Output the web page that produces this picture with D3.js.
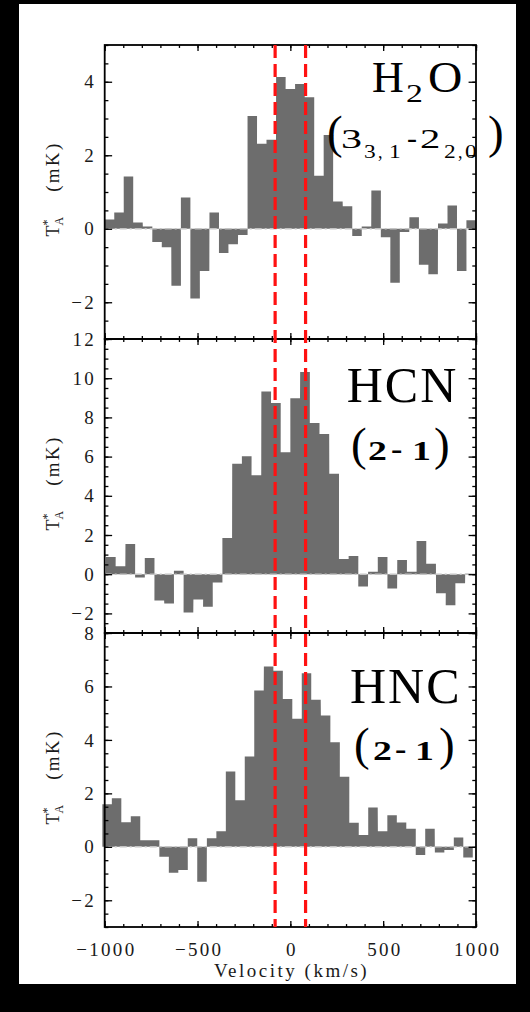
<!DOCTYPE html>
<html>
<head>
<meta charset="utf-8">
<script src="https://cdn.jsdelivr.net/npm/d3@7"></script>
<style>
  html, body { margin: 0; padding: 0; background: #000; }
  svg { display: block; }
</style>
</head>
<body>
<svg id="chart" width="530" height="1012"></svg>
<script>
// Channel centre velocities (km/s) and antenna temperatures T*A (mK)
const velH2O = [-974, -923, -872, -821, -769, -718, -667, -615, -564, -513, -462, -410, -359, -308, -256, -205, -154, -103, -51, 0,
                51, 103, 154, 205, 256, 308, 359, 410, 462, 513, 564, 615, 667, 718, 769, 821, 872, 923, 974];
const tH2O = [0.25, 0.44, 1.42, 0.17, 0.06, -0.36, -0.50, -1.55, 0.85, -1.90, -1.15, 0.44, -0.66, -0.42, -0.17, 3.07, 2.31, 2.42, 4.13, 3.80,
              3.94, 3.58, 1.44, 2.55, 0.74, 0.61, -0.20, 0.06, 1.04, -0.23, -1.47, -0.09, 0.31, -0.98, -1.24, 0.14, 0.63, -1.15, 0.23];

const velHCN = [-967, -915, -862, -810, -758, -706, -653, -601, -549, -496, -444, -392, -340, -287, -235, -183, -130, -78, -26,
                26, 79, 131, 183, 236, 288, 340, 392, 445, 497, 549, 602, 654, 706, 758, 811, 863, 915, 968];
const tHCN = [0.88, 0.41, 1.54, -0.17, 0.83, -1.34, -1.49, 0.17, -1.95, -1.29, -1.66, -0.42, 1.85, 5.64, 6.02, 5.05, 9.32, 8.73, 6.22,
              8.98, 10.31, 7.71, 7.15, 5.12, 0.78, 0.93, -0.63, 0.12, 0.88, -0.73, 0.73, 0.12, 1.69, 0.53, -0.97, -1.59, -0.46, 0.02];

const velHNC = [-987, -936, -885, -834, -783, -731, -680, -629, -578, -527, -476, -424, -373, -322, -271, -220, -169, -117, -66, -15,
                36, 87, 138, 190, 241, 292, 343, 394, 445, 497, 548, 599, 650, 701, 752, 804, 855, 906, 957];
const tHNC = [1.59, 1.82, 0.92, 1.14, 0.25, 0.25, -0.37, -0.97, -0.87, 0.32, -1.31, 0.32, 0.58, 2.82, 1.74, 3.38, 5.85, 6.75, 6.59, 5.53,
              4.79, 6.49, 5.50, 4.91, 3.91, 2.62, 0.90, 0.44, 1.47, 0.58, 1.18, 0.91, 0.68, -0.31, 0.68, -0.21, -0.12, 0.35, -0.40];

// Velocity window marked by the dashed lines (km/s)
const lineWindow = [-82, 82];

// Axis ranges and labelled ticks
const velDomain = [-1000, 1000];
const velTicks = [-1000, -500, 0, 500, 1000];
const domainH2O = [-3, 5], ticksH2O = [-2, 0, 2, 4];
const domainHCN = [-3, 12], ticksHCN = [-2, 0, 2, 4, 6, 8, 10, 12];
const domainHNC = [-3, 8], ticksHNC = [-2, 0, 2, 4, 6, 8];

const xAxisTitle = "Velocity (km/s)";

// ---------------------------------------------------------------
const svg = d3.select("#chart");
const W = 530, H = 1012;
const box = { left: 104.7, right: 476, top: 45, bottom: 927 };
const panelH = (box.bottom - box.top) / 3;
const serif = "'Liberation Serif', 'Times New Roman', serif";
const barColor = "#6d6d6d";
const ink = "#1a1a1a";

// page background: white sheet on black surround
svg.append("rect").attr("width", W).attr("height", H).attr("fill", "#000");
svg.append("rect").attr("x", 19).attr("y", 4).attr("width", 497).attr("height", 980).attr("fill", "#fff");

const x = d3.scaleLinear().domain(velDomain).range([box.left, box.right]);

// Title glyphs: [text, font size, x from right frame, baseline from panel top, horizontal stretch, weight, letter spacing]
const titleH2O = [
  ["H", 44, -104, 47], ["2", 26, -70, 57, 1.3], ["O", 44, -48, 47, 1.08],
  ["(", 47, -149, 103], ["3", 28, -135, 103, 1.5],
  ["3", 18, -112, 113, 1.3], [",", 18, -98, 113], ["1", 18, -87, 113, 1.3],
  ["-", 30, -69, 103], ["2", 28, -56, 103, 1.45],
  ["2", 18, -32, 113, 1.3], [",", 18, -18, 113], ["0", 18, -11, 113, 1.3],
  [")", 47, 12, 103]
];
const titleHCN = [
  ["HCN", 50, -129.3, 62.7, 1, "normal", 2],
  ["(", 47, -125, 121], ["2", 27, -108, 121, 1.4, "bold"], ["-", 34, -85, 121],
  ["1", 27, -64, 121, 1.4, "bold"], [")", 47, -42, 121]
];
const titleHNC = [
  ["HNC", 50, -126, 69.7, 1, "normal", 2],
  ["(", 47, -122, 127], ["2", 27, -103, 127, 1.4, "bold"], ["-", 34, -81, 127],
  ["1", 27, -61, 127, 1.4, "bold"], [")", 47, -37, 127]
];

const panels = [
  { vel: velH2O, t: tH2O, domain: domainH2O, ticks: ticksH2O, title: titleH2O },
  { vel: velHCN, t: tHCN, domain: domainHCN, ticks: ticksHCN, title: titleHCN },
  { vel: velHNC, t: tHNC, domain: domainHNC, ticks: ticksHNC, title: titleHNC }
];

const yTickLen = 0.02 * (box.right - box.left);
const xTickLen = 0.02 * panelH;
const tickLS = 2.3;

function styleAxis(g) {
  g.select(".domain").remove();
  g.selectAll(".tick line").attr("stroke", "#000").attr("stroke-width", 1.3);
  g.selectAll("text").attr("font-family", serif).attr("font-size", 19).attr("fill", ink)
    .style("letter-spacing", tickLS + "px");
}

panels.forEach((p, i) => {
  const top = box.top + i * panelH, bottom = top + panelH;
  const y = d3.scaleLinear().domain(p.domain).range([bottom, top]);
  const g = svg.append("g");
  const dv = (p.vel[p.vel.length - 1] - p.vel[0]) / (p.vel.length - 1);

  // spectrum drawn as one histogram-step area
  const steps = [];
  p.vel.forEach((v, k) => {
    steps.push([v - dv / 2, p.t[k]]);
    steps.push([v + dv / 2, p.t[k]]);
  });
  g.append("path")
    .datum(steps)
    .attr("d", d3.area().x(d => x(d[0])).y0(y(0)).y1(d => y(d[1])))
    .attr("fill", barColor);

  // zero baseline
  g.append("line")
    .attr("x1", box.left).attr("x2", box.right)
    .attr("y1", y(0)).attr("y2", y(0))
    .attr("stroke", "#c4c4c4").attr("stroke-width", 1.4)
    .attr("stroke-dasharray", "7,3,2,3");

  // minor ticks
  const yMinor = d3.range(p.domain[0], p.domain[1] + 0.001, 0.5);
  const xMinor = d3.range(velDomain[0], velDomain[1] + 1, 100);
  g.append("g").attr("transform", `translate(${box.left},0)`)
    .call(d3.axisLeft(y).tickValues(yMinor).tickSize(-yTickLen / 2).tickFormat("")).call(styleAxis);
  g.append("g").attr("transform", `translate(${box.right},0)`)
    .call(d3.axisRight(y).tickValues(yMinor).tickSize(-yTickLen / 2).tickFormat("")).call(styleAxis);
  g.append("g").attr("transform", `translate(0,${top})`)
    .call(d3.axisTop(x).tickValues(xMinor).tickSize(-xTickLen / 2).tickFormat("")).call(styleAxis);
  g.append("g").attr("transform", `translate(0,${bottom})`)
    .call(d3.axisBottom(x).tickValues(xMinor).tickSize(-xTickLen / 2).tickFormat("")).call(styleAxis);

  // major ticks with labels
  const fmt = d => (d < 0 ? "\u2212" + Math.abs(d) : String(d));
  g.append("g").attr("transform", `translate(${box.left},0)`)
    .call(d3.axisLeft(y).tickValues(p.ticks).tickSize(-yTickLen).tickPadding(11 - tickLS).tickFormat(fmt)).call(styleAxis);
  g.append("g").attr("transform", `translate(${box.right},0)`)
    .call(d3.axisRight(y).tickValues(p.ticks).tickSize(-yTickLen).tickFormat("")).call(styleAxis);
  g.append("g").attr("transform", `translate(0,${top})`)
    .call(d3.axisTop(x).tickValues(velTicks).tickSize(-xTickLen).tickFormat("")).call(styleAxis);
  const bx = g.append("g").attr("transform", `translate(0,${bottom})`)
    .call(d3.axisBottom(x).tickValues(velTicks).tickSize(-xTickLen).tickPadding(16)
      .tickFormat(i === panels.length - 1 ? fmt : "")).call(styleAxis);
  bx.selectAll("text").attr("dx", tickLS / 2);

  // frame
  g.append("rect").attr("x", box.left).attr("y", top)
    .attr("width", box.right - box.left).attr("height", panelH)
    .attr("fill", "none").attr("stroke", "#000").attr("stroke-width", 1.8);

  // y-axis title  T*A (mK)
  const yl = g.append("text")
    .attr("transform", `translate(58.5,${(top + bottom) / 2 - 3}) rotate(-90)`)
    .attr("text-anchor", "middle")
    .attr("font-family", serif).attr("font-size", 18).attr("fill", ink);
  yl.append("tspan").text("T");
  yl.append("tspan").attr("font-size", 12).attr("dy", -8).text("*");
  yl.append("tspan").attr("font-size", 12).attr("dx", -6).attr("dy", 12).text("A");
  yl.append("tspan").attr("font-size", 19).style("letter-spacing", "2.3px")
    .attr("dx", 25).attr("dy", -4).text("(mK)");

  // species / transition label
  p.title.forEach(([txt, size, dx, base, sx, weight, ls]) => {
    svg.append("text")
      .attr("transform", `translate(${box.right + dx},${top + base}) scale(${sx || 1},1)`)
      .attr("font-family", serif)
      .attr("font-size", size)
      .attr("font-weight", weight || "normal")
      .style("letter-spacing", (ls || 0) + "px")
      .attr("fill", "#000")
      .text(txt);
  });
});

// x-axis title
svg.append("text")
  .attr("x", (box.left + box.right) / 2 + 1.25).attr("y", 977)
  .attr("text-anchor", "middle")
  .attr("font-family", serif).attr("font-size", 19).attr("fill", ink)
  .style("letter-spacing", "2.5px")
  .text(xAxisTitle);

// dashed velocity window spanning all panels
svg.append("g").selectAll("line").data(lineWindow).join("line")
  .attr("x1", d => x(d)).attr("x2", d => x(d))
  .attr("y1", box.top).attr("y2", box.bottom)
  .attr("stroke", "#ff1111").attr("stroke-width", 3.2)
  .attr("stroke-dasharray", "13,6");
</script>
</body>
</html>
